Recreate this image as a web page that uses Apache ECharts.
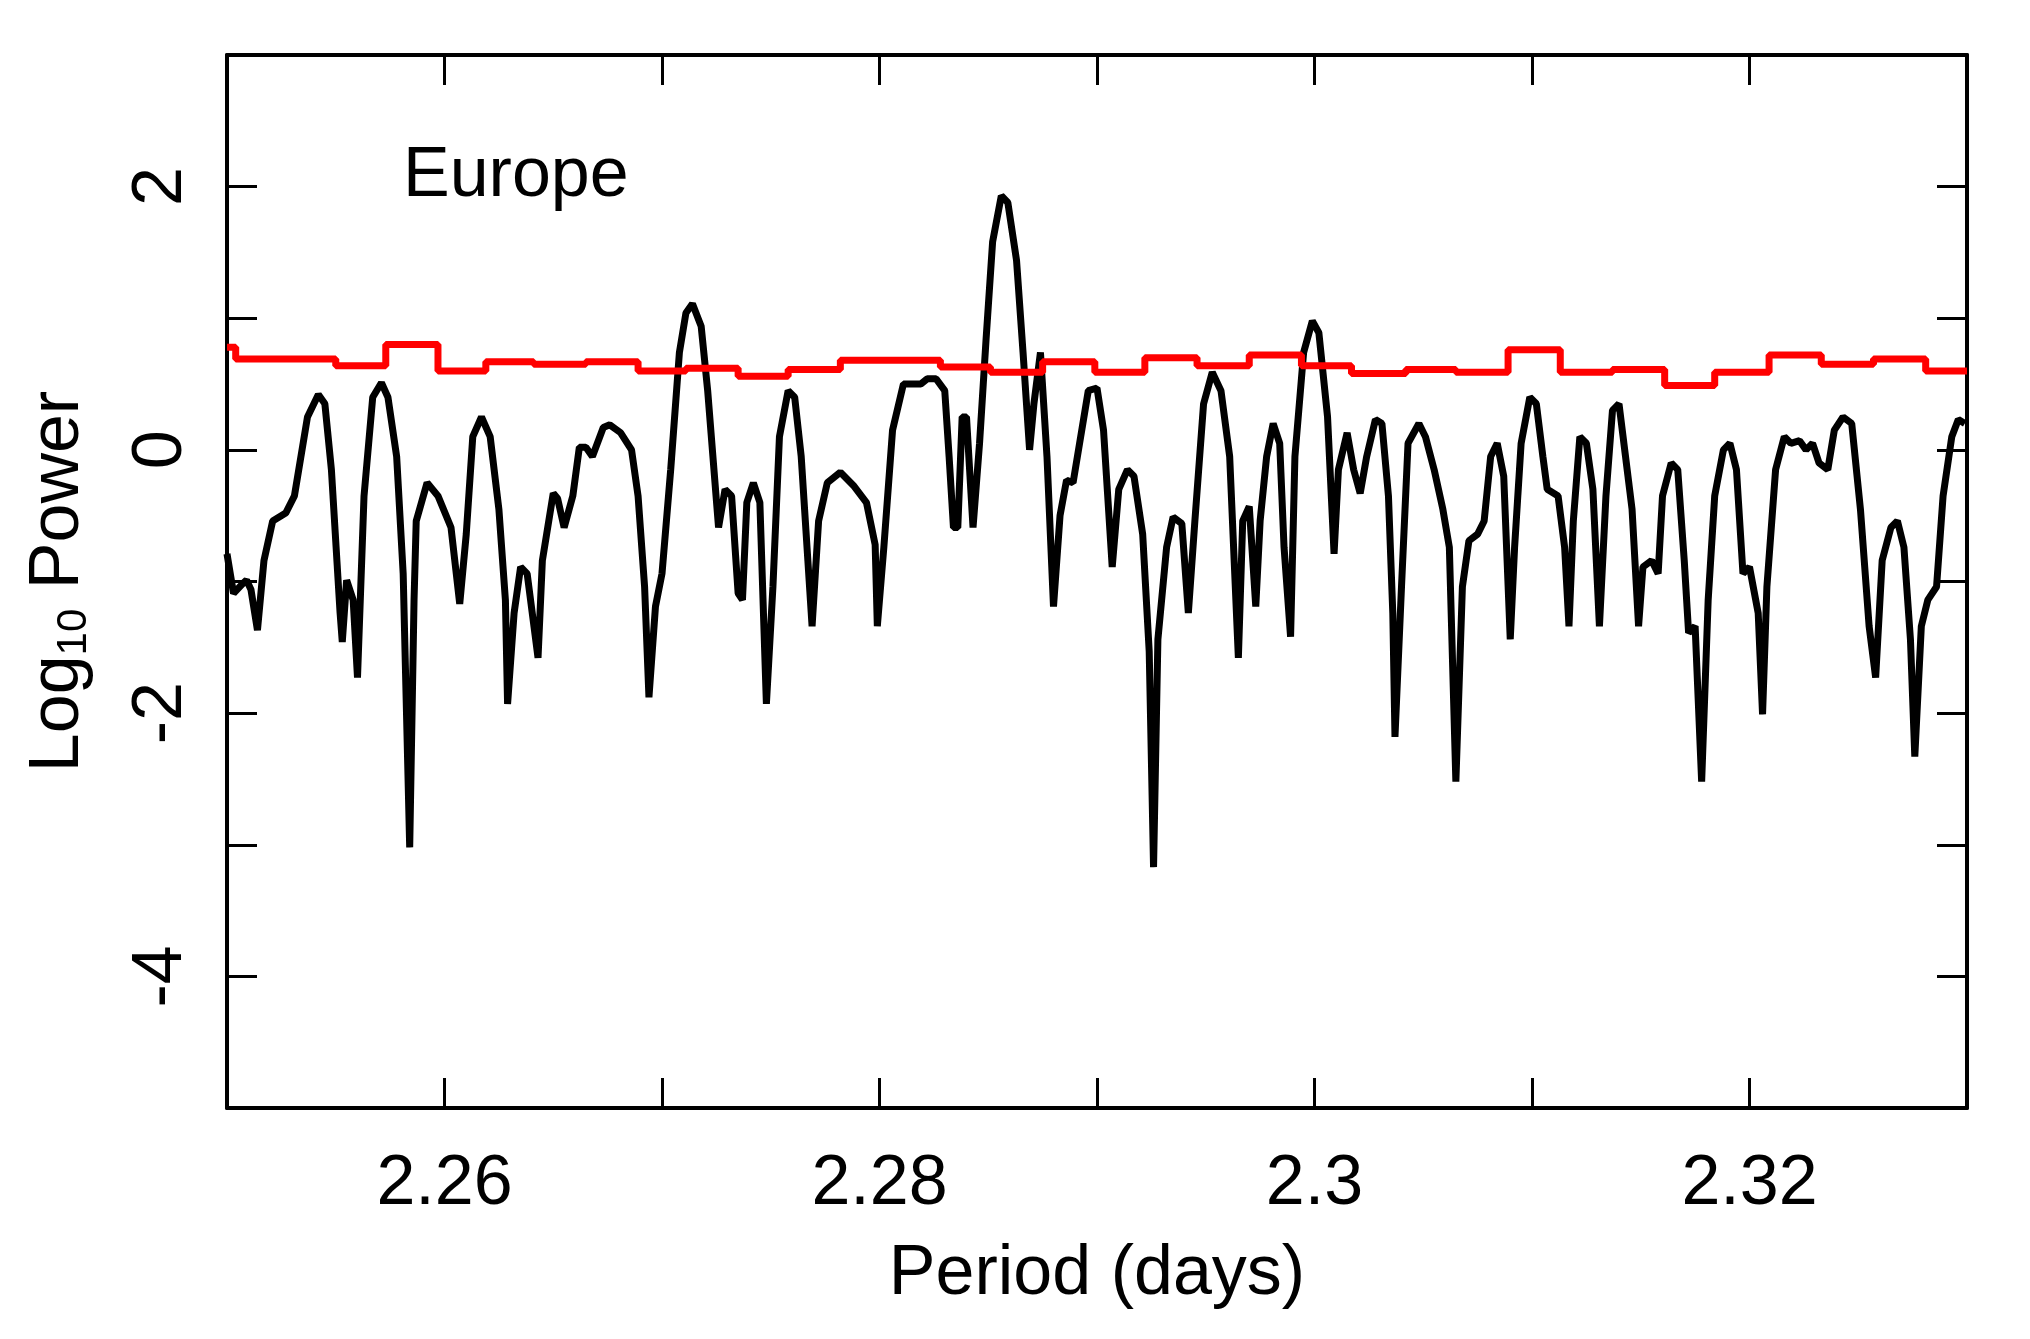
<!DOCTYPE html>
<html><head><meta charset="utf-8">
<script src="https://cdn.jsdelivr.net/npm/echarts@6/dist/echarts.min.js"></script>
<style>html,body{margin:0;padding:0;background:#fff}#c{width:2030px;height:1339px}</style>
</head><body><div id="c"></div>
<script>
const powerSeries = [
[2.2500,-0.79],[2.2503,-1.09],[2.2507,-1.02],[2.2509,-0.99],[2.2511,-1.06],[2.2514,-1.37],[2.2517,-0.84],[2.2521,-0.54],[2.2527,-0.48],[2.2531,-0.35],
[2.2537,0.25],[2.2542,0.42],[2.2545,0.35],[2.2548,-0.15],[2.2552,-1.24],[2.2553,-1.46],[2.2555,-0.99],[2.2558,-1.14],[2.2560,-1.73],[2.2563,-0.35],
[2.2567,0.40],[2.2571,0.51],[2.2574,0.40],[2.2578,-0.05],[2.2581,-0.94],[2.2584,-3.02],[2.2586,-1.14],[2.2587,-0.54],[2.2592,-0.25],[2.2597,-0.35],
[2.2603,-0.59],[2.2607,-1.17],[2.2610,-0.64],[2.2613,0.10],[2.2617,0.25],[2.2621,0.10],[2.2625,-0.45],[2.2628,-1.14],[2.2629,-1.93],[2.2632,-1.24],
[2.2635,-0.89],[2.2638,-0.94],[2.2643,-1.58],[2.2645,-0.84],[2.2650,-0.33],[2.2652,-0.37],[2.2655,-0.59],[2.2659,-0.35],[2.2662,0.02],[2.2665,0.02],
[2.2668,-0.05],[2.2673,0.17],[2.2676,0.19],[2.2681,0.13],[2.2686,0.00],[2.2689,-0.35],[2.2692,-1.04],[2.2694,-1.88],[2.2697,-1.19],[2.2700,-0.94],
[2.2704,-0.15],[2.2708,0.74],[2.2711,1.04],[2.2714,1.11],[2.2718,0.94],[2.2721,0.45],[2.2726,-0.59],[2.2729,-0.30],[2.2732,-0.35],[2.2735,-1.09],
[2.2737,-1.14],[2.2739,-0.40],[2.2742,-0.25],[2.2745,-0.40],[2.2748,-1.93],[2.2751,-1.04],[2.2754,0.10],[2.2758,0.45],[2.2761,0.40],[2.2764,-0.05],
[2.2769,-1.34],[2.2772,-0.54],[2.2776,-0.25],[2.2782,-0.17],[2.2788,-0.27],[2.2794,-0.40],[2.2798,-0.72],[2.2799,-1.34],[2.2802,-0.74],[2.2806,0.15],
[2.2811,0.50],[2.2815,0.50],[2.2819,0.50],[2.2822,0.54],[2.2826,0.54],[2.2830,0.45],[2.2832,-0.05],[2.2834,-0.59],[2.2836,-0.59],[2.2838,0.25],
[2.2840,0.25],[2.2843,-0.59],[2.2846,0.05],[2.2849,0.84],[2.2852,1.58],[2.2856,1.93],[2.2859,1.88],[2.2863,1.44],[2.2866,0.74],[2.2869,0.00],
[2.2871,0.35],[2.2874,0.74],[2.2877,-0.05],[2.2880,-1.19],[2.2883,-0.50],[2.2886,-0.23],[2.2889,-0.25],[2.2892,0.05],[2.2896,0.45],[2.2900,0.47],
[2.2903,0.15],[2.2907,-0.89],[2.2910,-0.30],[2.2914,-0.15],[2.2917,-0.20],[2.2921,-0.64],[2.2924,-1.53],[2.2926,-3.17],[2.2928,-1.44],[2.2932,-0.74],
[2.2935,-0.51],[2.2939,-0.56],[2.2942,-1.24],[2.2945,-0.54],[2.2949,0.35],[2.2953,0.59],[2.2957,0.45],[2.2961,-0.05],[2.2965,-1.58],[2.2967,-0.54],
[2.2970,-0.43],[2.2973,-1.19],[2.2975,-0.54],[2.2978,-0.05],[2.2981,0.20],[2.2984,0.05],[2.2986,-0.74],[2.2989,-1.42],[2.2991,-0.05],[2.2995,0.74],
[2.2999,0.98],[2.3002,0.89],[2.3006,0.25],[2.3009,-0.79],[2.3011,-0.15],[2.3015,0.13],[2.3018,-0.15],[2.3021,-0.33],[2.3024,-0.05],[2.3028,0.23],
[2.3031,0.20],[2.3034,-0.35],[2.3036,-1.24],[2.3037,-2.18],[2.3040,-1.04],[2.3043,0.05],[2.3048,0.20],[2.3051,0.10],[2.3055,-0.15],[2.3059,-0.45],
[2.3062,-0.74],[2.3065,-2.52],[2.3068,-1.04],[2.3071,-0.69],[2.3075,-0.64],[2.3078,-0.54],[2.3081,-0.05],[2.3084,0.05],[2.3087,-0.20],[2.3090,-1.44],
[2.3092,-0.74],[2.3095,0.05],[2.3099,0.40],[2.3102,0.35],[2.3105,-0.05],[2.3107,-0.30],[2.3112,-0.35],[2.3115,-0.74],[2.3117,-1.34],[2.3119,-0.54],
[2.3122,0.10],[2.3125,0.05],[2.3128,-0.30],[2.3131,-1.34],[2.3134,-0.35],[2.3137,0.30],[2.3140,0.35],[2.3143,-0.05],[2.3146,-0.45],[2.3149,-1.34],
[2.3151,-0.89],[2.3155,-0.84],[2.3158,-0.94],[2.3160,-0.35],[2.3164,-0.10],[2.3167,-0.15],[2.3170,-0.84],[2.3172,-1.39],[2.3175,-1.34],[2.3178,-2.52],
[2.3181,-1.14],[2.3184,-0.35],[2.3188,0.00],[2.3191,0.05],[2.3194,-0.15],[2.3197,-0.94],[2.3200,-0.89],[2.3204,-1.24],[2.3206,-2.01],[2.3208,-1.04],
[2.3212,-0.15],[2.3216,0.10],[2.3219,0.05],[2.3223,0.07],[2.3226,0.00],[2.3229,0.05],[2.3232,-0.10],[2.3236,-0.15],[2.3239,0.15],[2.3243,0.25],
[2.3247,0.20],[2.3251,-0.45],[2.3255,-1.34],[2.3258,-1.73],[2.3261,-0.84],[2.3265,-0.59],[2.3268,-0.54],[2.3271,-0.74],[2.3274,-1.44],[2.3276,-2.33],
[2.3279,-1.34],[2.3282,-1.14],[2.3286,-1.04],[2.3289,-0.35],[2.3293,0.10],[2.3296,0.23],[2.3299,0.20]
];
const thresholdEdges = [2.2500,2.2504,2.2550,2.2573,2.2597,2.2619,2.2641,2.2665,2.2689,2.2711,2.2735,2.2758,2.2782,2.2828,2.2851,2.2875,2.2899,2.2922,2.2946,2.2970,2.2994,2.3017,2.3042,2.3065,2.3089,2.3113,2.3137,2.3161,2.3184,2.3209,2.3233,2.3257,2.3281,2.33];
const thresholdValues = [0.78,0.69,0.64,0.80,0.60,0.67,0.65,0.67,0.60,0.62,0.56,0.61,0.68,0.63,0.59,0.67,0.59,0.70,0.64,0.72,0.64,0.58,0.61,0.59,0.76,0.59,0.61,0.49,0.59,0.72,0.65,0.69,0.60];
const xTickLabels = ['2.26','2.28','2.3','2.32'];
const yTickLabels = ['2','0','-2','-4'];

const thresh = thresholdEdges.map((e,i)=>[e, thresholdValues[Math.min(i,thresholdValues.length-1)]]);
const F = 'Liberation Sans, Arial, sans-serif';
const chart = echarts.init(document.getElementById('c'));
const xBase = {type:'value',min:2.25,max:2.33,interval:0.01,
  axisLine:{show:true,onZero:false,lineStyle:{color:'#000',width:4}},
  axisTick:{show:true,inside:true,length:30,lineStyle:{color:'#000',width:3}},
  splitLine:{show:false}};
const yBase = {type:'value',min:-5,max:3,interval:1,
  axisLine:{show:true,onZero:false,lineStyle:{color:'#000',width:4}},
  axisTick:{show:true,inside:true,length:30,lineStyle:{color:'#000',width:3}},
  splitLine:{show:false}};
chart.setOption({
  animation:false,
  grid:{left:227,right:63,top:55,bottom:231},
  xAxis:[Object.assign({},xBase,{position:'bottom',
      name:'Period (days)',nameLocation:'middle',nameGap:132,
      nameTextStyle:{fontFamily:F,fontSize:70,color:'#000'},
      axisLabel:{margin:42,fontFamily:F,fontSize:70,color:'#000',
        formatter:v=>{const s=String(+v.toFixed(2));return xTickLabels.includes(s)?s:'';}}}),
    Object.assign({},xBase,{position:'top',axisLabel:{show:false}})],
  yAxis:[Object.assign({},yBase,{position:'left',
      name:'{a|Log}{b|10}{a| Power}',nameLocation:'middle',nameGap:132,nameRotate:90,
      nameTextStyle:{rich:{a:{fontFamily:F,fontSize:70,color:'#000'},b:{fontFamily:F,fontSize:42,color:'#000',padding:[30,0,0,0]}}},
      axisLabel:{margin:30,rotate:90,fontFamily:F,fontSize:70,color:'#000',
        formatter:v=>{const s=String(Math.round(v));return yTickLabels.includes(s)?s:'';}}}),
    Object.assign({},yBase,{position:'right',axisLabel:{show:false}})],
  graphic:[{type:'text',left:403,top:142,style:{text:'Europe',font:'70px '+F,fill:'#000'}}],
  series:[
    {type:'line',data:powerSeries,symbol:'none',lineStyle:{color:'#000',width:7},z:2},
    {type:'line',data:thresh,step:'end',symbol:'none',lineStyle:{color:'#ff0000',width:7},z:3}
  ]
});
</script></body></html>
